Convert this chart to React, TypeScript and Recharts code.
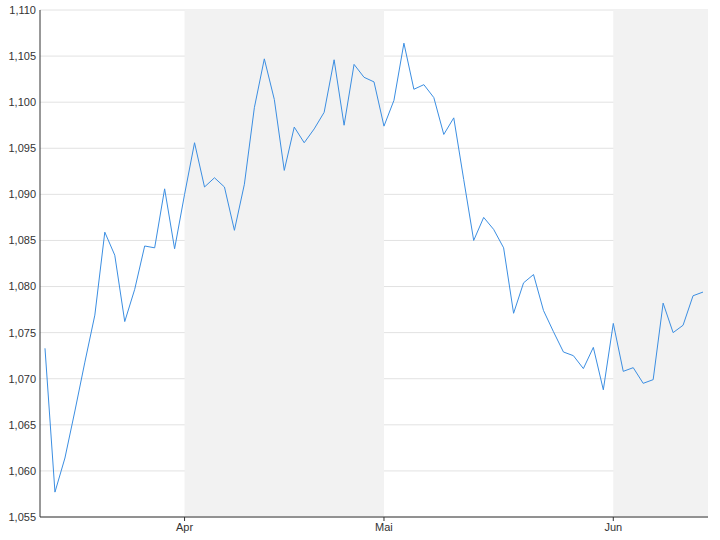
import {
  LineChart,
  Line,
  XAxis,
  YAxis,
  CartesianGrid,
  ReferenceArea,
} from "recharts";

// trading days, 14 Mar – 14 Jun
const dates = [
  "2023-03-14", "2023-03-15", "2023-03-16", "2023-03-17", "2023-03-20",
  "2023-03-21", "2023-03-22", "2023-03-23", "2023-03-24", "2023-03-27",
  "2023-03-28", "2023-03-29", "2023-03-30", "2023-03-31", "2023-04-03",
  "2023-04-04", "2023-04-05", "2023-04-06", "2023-04-07", "2023-04-10",
  "2023-04-11", "2023-04-12", "2023-04-13", "2023-04-14", "2023-04-17",
  "2023-04-18", "2023-04-19", "2023-04-20", "2023-04-21", "2023-04-24",
  "2023-04-25", "2023-04-26", "2023-04-27", "2023-04-28", "2023-05-01",
  "2023-05-02", "2023-05-03", "2023-05-04", "2023-05-05", "2023-05-08",
  "2023-05-09", "2023-05-10", "2023-05-11", "2023-05-12", "2023-05-15",
  "2023-05-16", "2023-05-17", "2023-05-18", "2023-05-19", "2023-05-22",
  "2023-05-23", "2023-05-24", "2023-05-25", "2023-05-26", "2023-05-29",
  "2023-05-30", "2023-05-31", "2023-06-01", "2023-06-02", "2023-06-05",
  "2023-06-06", "2023-06-07", "2023-06-08", "2023-06-09", "2023-06-12",
  "2023-06-13", "2023-06-14",
];

const rates = [
  1.0733, 1.0577, 1.0614, 1.0665, 1.0718, 1.0769, 1.0859, 1.0834, 1.0762,
  1.0797, 1.0844, 1.0842, 1.0906, 1.0841, 1.09, 1.0956, 1.0908, 1.0918,
  1.0908, 1.0861, 1.0911, 1.0994, 1.1047, 1.1003, 1.0926, 1.0973, 1.0956,
  1.0971, 1.0989, 1.1046, 1.0975, 1.1041, 1.1027, 1.1022, 1.0974, 1.1002,
  1.1064, 1.1014, 1.1019, 1.1005, 1.0965, 1.0983, 1.0916, 1.085, 1.0875,
  1.0862, 1.0842, 1.0771, 1.0804, 1.0813, 1.0774, 1.0751, 1.0729, 1.0725,
  1.0711, 1.0734, 1.0688, 1.076, 1.0708, 1.0712, 1.0695, 1.0699, 1.0782,
  1.075, 1.0758, 1.079, 1.0794,
];

const monthNames: Record<string, string> = { "04": "Apr", "05": "Mai", "06": "Jun" };
const shadedMonths = ["04", "06"];
const yTicks = [1.055, 1.06, 1.065, 1.07, 1.075, 1.08, 1.085, 1.09, 1.095, 1.1, 1.105, 1.11];

const data = dates.map((d, i) => ({ i, date: d, rate: rates[i] }));
const monthStart = (m: string) => dates.findIndex((d) => d.slice(5, 7) === m);
const monthTicks = Object.keys(monthNames).map(monthStart);
const lastIdx = dates.length - 1;

const bands = shadedMonths.map((m) => {
  const start = monthStart(m);
  const next = dates.findIndex((d) => d.slice(5, 7) > m);
  return { start, end: next < 0 ? lastIdx + 0.5 : next };
});

const fmt = (v: number) => v.toFixed(3).replace(".", ",");
const tickStyle = { fill: "#333", fontSize: 11, fontFamily: "'Liberation Sans', Arial, sans-serif" };

export default function App() {
  return (
    <div style={{ position: "absolute", left: 0, top: 0 }}>
      <LineChart
        width={720}
        height={540}
        data={data}
        margin={{ top: 10, right: 12, left: 0, bottom: 0 }}
      >
        {bands.map((b) => (
          <ReferenceArea
            key={b.start}
            x1={b.start}
            x2={b.end}
            fill="#f2f2f2"
            fillOpacity={1}
            stroke="none"
          />
        ))}
        <CartesianGrid vertical={false} stroke="#e2e2e2" />
        <XAxis
          dataKey="i"
          type="number"
          domain={[-0.5, lastIdx + 0.5]}
          ticks={monthTicks}
          tickFormatter={(v: number) => monthNames[dates[v].slice(5, 7)]}
          height={23}
          tickSize={4}
          tickMargin={2}
          tick={tickStyle}
          stroke="#333"
          allowDataOverflow
        />
        <YAxis
          domain={[1.055, 1.11]}
          ticks={yTicks}
          tickFormatter={fmt}
          width={40}
          tickSize={0}
          tickMargin={4}
          tick={tickStyle}
          stroke="#333"
          allowDataOverflow
        />
        <Line
          type="linear"
          dataKey="rate"
          stroke="#3b8ee2"
          strokeWidth={1}
          dot={false}
          isAnimationActive={false}
        />
      </LineChart>
    </div>
  );
}
